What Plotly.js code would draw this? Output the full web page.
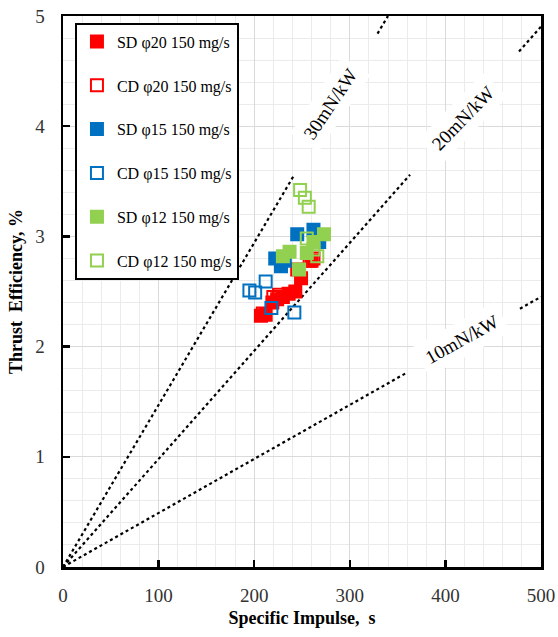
<!DOCTYPE html>
<html>
<head>
<meta charset="utf-8">
<script src="https://cdn.plot.ly/plotly-3.0.1.min.js"></script>
<style>html,body{margin:0;padding:0;background:#fff;}#chart{width:558px;height:637px;}</style>
</head>
<body>
<div id="chart"></div>
<script>
// ---- data (Isp in s, thrust efficiency in %) ----
const sdPhi20Isp = [207, 212, 219, 224, 230, 236, 243, 249, 260];
const sdPhi20Eff = [2.28, 2.29, 2.40, 2.43, 2.45, 2.48, 2.50, 2.62, 2.78];
const cdPhi20Isp = [209, 220, 226, 245, 258, 262];
const cdPhi20Eff = [2.30, 2.45, 2.47, 2.70, 2.78, 2.80];
const sdPhi15Isp = [222, 228, 232, 245, 262, 268];
const sdPhi15Eff = [2.80, 2.73, 2.78, 3.02, 3.06, 2.95];
const cdPhi15Isp = [195, 201, 212, 218, 242];
const cdPhi15Eff = [2.51, 2.49, 2.59, 2.35, 2.31];
const sdPhi12Isp = [230, 237, 247, 255, 262, 273];
const sdPhi12Eff = [2.82, 2.86, 2.70, 2.85, 2.95, 3.02];
const cdPhi12Isp = [248, 253, 257, 255, 266, 262];
const cdPhi12Eff = [3.42, 3.35, 3.27, 2.98, 2.82, 2.88];

const seriesNames = ["SD φ20 150 mg/s", "CD φ20 150 mg/s", "SD φ15 150 mg/s",
                     "CD φ15 150 mg/s", "SD φ12 150 mg/s", "CD φ12 150 mg/s"];

// thrust-to-power reference lines (mN/kW) and the label gaps along them (Isp, s)
const tpLevels = [30, 20, 10];
const tpLabels = ["30mN/kW", "20mN/kW", "10mN/kW"];
const tpGapStart = [242, 363, 360];
const tpGapEnd = [329, 477, 478];
const tpLabelIsp = [279, 418, 417];
const tpLabelEff = [4.20, 4.07, 2.06];
const tpLabelAngle = [-56, -46, -29];

const G0 = 9.80665;
const effOf = (k, isp) => k * 1e-6 * G0 * isp / 2 * 100; // percent
const ispMax = 500, effMax = 5;

const serif = "'Liberation Serif', 'Times New Roman', serif";
const RED = "#FF0000", BLUE = "#0070C0", GREEN = "#92D050";

const traces = [];
// reference lines
tpLevels.forEach((k, i) => {
  const ispEnd = Math.min(ispMax, effMax / effOf(k, 1));
  const xs = [0, tpGapStart[i], null, tpGapEnd[i], ispEnd];
  const ys = xs.map(v => v === null ? null : effOf(k, v));
  traces.push({x: xs, y: ys, mode: "lines", type: "scatter", showlegend: false,
    hoverinfo: "skip", line: {color: "#000", width: 2.2, dash: "dot"}});
});

const sets = [
  [sdPhi20Isp, sdPhi20Eff, "square", RED],
  [cdPhi20Isp, cdPhi20Eff, "square-open", RED],
  [sdPhi15Isp, sdPhi15Eff, "square", BLUE],
  [cdPhi15Isp, cdPhi15Eff, "square-open", BLUE],
  [sdPhi12Isp, sdPhi12Eff, "square", GREEN],
  [cdPhi12Isp, cdPhi12Eff, "square-open", GREEN]
];
sets.forEach((s, i) => {
  traces.push({x: s[0], y: s[1], mode: "markers", type: "scatter", name: seriesNames[i],
    legendgroup: "g" + i,
    marker: {symbol: s[2], size: 12, color: s[3], line: {color: s[3], width: 2}}});
});

const annotations = tpLevels.map((k, i) => ({
  x: tpLabelIsp[i], y: tpLabelEff[i], xref: "x", yref: "y", text: tpLabels[i],
  showarrow: false, textangle: tpLabelAngle[i],
  font: {family: serif, size: 19, color: "#000"}, bgcolor: "#fff", borderpad: 6
}));

const axisCommon = {
  showline: true, linecolor: "#000", linewidth: 2.5, mirror: true,
  ticks: "inside", ticklen: 7, tickwidth: 2.5, tickcolor: "#000",
  showgrid: true, gridcolor: "#DADADA", gridwidth: 1, zeroline: false,
  tickfont: {family: serif, size: 19, color: "#333"}
};

const layout = {
  width: 558, height: 637,
  margin: {l: 63, r: 17, t: 16, b: 70},
  paper_bgcolor: "#fff", plot_bgcolor: "#fff",
  showlegend: true,
  xaxis: Object.assign({}, axisCommon, {
    range: [0, 500], dtick: 100, ticklabelstandoff: 10,
    minor: {dtick: 20, showgrid: true, gridcolor: "#EBEBEB", gridwidth: 1, ticks: ""},
    title: {text: "<b>Specific Impulse,  s</b>", font: {family: serif, size: 18, color: "#000"}, standoff: 6}
  }),
  yaxis: Object.assign({}, axisCommon, {
    range: [0, 5], dtick: 1, ticklabelstandoff: 12,
    minor: {dtick: 0.2, showgrid: true, gridcolor: "#EBEBEB", gridwidth: 1, ticks: ""},
    title: {text: "<b>Thrust  Efficiency, %</b>", font: {family: serif, size: 18, color: "#000"}, standoff: 8}
  }),
  legend: {x: 0.025, y: 0.988, xanchor: "left", yanchor: "top",
    bgcolor: "#fff", bordercolor: "#000", borderwidth: 2,
    font: {family: serif, size: 16, color: "#000"},
    tracegroupgap: 20, itemwidth: 30},
  annotations: annotations
};

Plotly.newPlot("chart", traces, layout, {displayModeBar: false, staticPlot: true});
</script>
</body>
</html>
